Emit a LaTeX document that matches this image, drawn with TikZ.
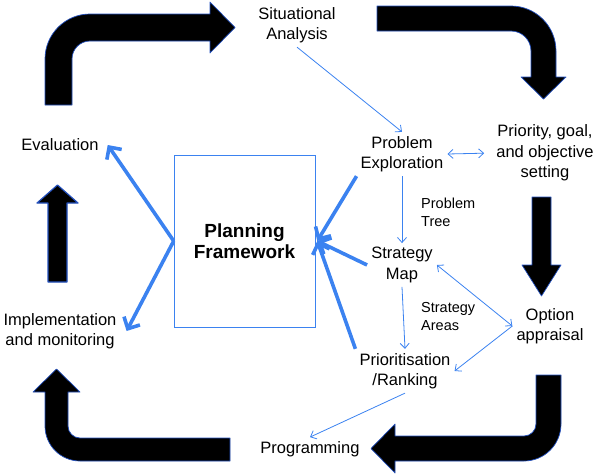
\documentclass[tikz,border=0pt]{standalone}
\usepackage{fontspec}
\setmainfont{Liberation Sans}
\usetikzlibrary{arrows.meta}
\definecolor{arrowblue}{RGB}{59, 130, 240}
\definecolor{edgeblue}{RGB}{35, 80, 190}

\begin{document}
\begin{tikzpicture}[x=1pt, y=-1pt,
    lbl/.style={align=center, inner sep=4pt, font=\fontsize{16.5}{20.5}\selectfont},
    note/.style={align=left, anchor=west, inner sep=0pt, font=\fontsize{14.5}{18}\selectfont},
    thinlink/.style={arrowblue, line width=0.8pt, -{Straight Barb[length=5pt, width=9pt]}},
    bothways/.style={thinlink, {Straight Barb[length=5pt, width=9pt]}-{Straight Barb[length=5pt, width=9pt]}},
    thicklink/.style={arrowblue, line width=3.6pt, -{Straight Barb[length=9pt, width=18pt]}},
    bigarrow/.style={fill=black, draw=edgeblue, line width=0.7pt, line join=round}]
    \useasboundingbox (0,0) rectangle (600,475);
    % cycle arrows
    \draw[bigarrow] (45,105) -- (45,59) arc[start angle=180, end angle=270, radius=45] -- (210,14) -- (210,2) -- (235,27.5) -- (210,53) -- (210,41) -- (90,41) arc[start angle=270, end angle=180, radius=18] -- (72,105) -- cycle;
    \draw[bigarrow] (377,6) -- (511,6) arc[start angle=-90, end angle=0, radius=45] -- (556,77) -- (566,77) -- (543.5,99) -- (521,77) -- (531,77) -- (531,51) arc[start angle=0, end angle=-90, radius=20] -- (377,31) -- cycle;
    \draw[bigarrow] (532,197) -- (551,197) -- (551,265) -- (561,265) -- (541.5,296) -- (522,265) -- (532,265) -- cycle;
    \draw[bigarrow] (536,375) -- (561,375) -- (561,424) arc[start angle=0, end angle=90, radius=37] -- (395,461) -- (395,473) -- (371,448.5) -- (395,424) -- (395,436) -- (524,436) arc[start angle=90, end angle=0, radius=12] -- cycle;
    \draw[bigarrow] (230,438) -- (80,438) arc[start angle=90, end angle=180, radius=12] -- (68,392) -- (80,392) -- (56.5,369) -- (33,392) -- (45,392) -- (45,426) arc[start angle=180, end angle=90, radius=35] -- (230,461) -- cycle;
    \draw[bigarrow, line width=1.2pt] (48,282) -- (48,203) -- (37,203) -- (57.5,185) -- (78,203) -- (67,203) -- (67,282) -- cycle;

    % stages
    \node[lbl] (sa) at (297,25) {Situational\\Analysis};
    \node[lbl] (ev) at (60,145) {Evaluation};
    \node[lbl] (pe) at (402,154) {Problem\\Exploration};
    \node[lbl] (pg) at (545,153) {Priority, goal,\\and objective\\setting};
    \node[lbl] (sm) at (402,265) {Strategy\\Map};
    \node[lbl] (oa) at (550,326) {Option\\appraisal};
    \node[lbl] (pr) at (405,371) {Prioritisation\\/Ranking};
    \node[lbl] (pgm) at (310,449) {Programming};
    \node[lbl] (im) at (60,331) {Implementation\\and monitoring};
    \node[note] (pt) at (421,212) {Problem\\Tree};
    \node[note] (sar) at (421,317) {Strategy\\Areas};
    \node[draw=arrowblue, line width=0.6pt, minimum width=141pt, minimum height=172pt,
          align=center, font=\bfseries\fontsize{19}{21}\selectfont] (pf) at (244.5,241) {Planning\\Framework};

    % links
    \draw[thinlink] (sa.south) -- (pe.north);
    \draw[bothways, shorten >=8pt] (pe.east) -- (pg.west);
    \draw[thinlink] (pe.south) -- (sm.north);
    \draw[thinlink] (sm.south) -- (pr.north);
    \draw[bothways] (sm.east) -- (oa.west);
    \draw[thinlink] (oa.west) -- (pr.east);
    \draw[thinlink] (pr.south) -- (pgm.north);
    \draw[thicklink] (pf.west) -- ([xshift=5pt]ev.east);
    \draw[thicklink] (pf.west) -- ([xshift=6pt]im.east);
    \draw[thicklink] (pe.south west) -- ([xshift=2pt]pf.east);
    \draw[thicklink] (sm.west) -- ([xshift=2pt]pf.east);
    \draw[thicklink] (pr.north west) -- ([xshift=2pt]pf.east);
\end{tikzpicture}
\end{document}
